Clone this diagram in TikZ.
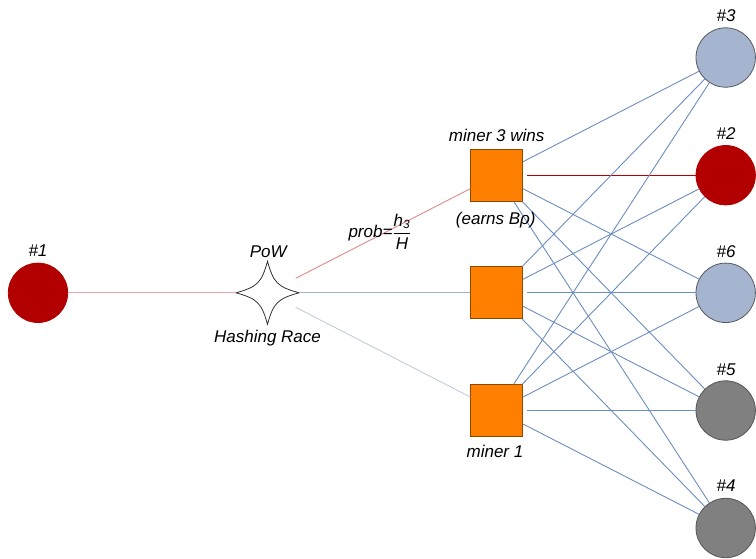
\documentclass[tikz,border=0pt]{standalone}
\usepackage{fontspec}
\setmainfont{Liberation Sans}
\usepackage{amsmath}
\definecolor{peerred}{HTML}{B20000}
\definecolor{peerblue}{HTML}{A5B5CF}
\definecolor{peerblueline}{HTML}{56585E}
\definecolor{peergray}{HTML}{808080}
\definecolor{peergrayline}{HTML}{555555}
\definecolor{minerorange}{HTML}{FF8000}
\definecolor{minerline}{HTML}{8C4A00}
\definecolor{linkblue}{HTML}{6C8EBF}
\definecolor{winred}{HTML}{B80000}
\definecolor{pinkA}{HTML}{EBA8A8}
\definecolor{pinkB}{HTML}{E08A8A}
\definecolor{slateA}{HTML}{A3B2CC}
\definecolor{slateB}{HTML}{C2CCDF}
\begin{document}
\begin{tikzpicture}[x=1pt,y=-1pt,
  every node/.style={font=\fontsize{17}{20}\selectfont\itshape},
  peer/.style={circle,minimum size=59.4pt,inner sep=0pt,line width=0.8pt},
  redpeer/.style={peer,fill=peerred,draw=peerred},
  bluepeer/.style={peer,fill=peerblue,draw=peerblueline},
  graypeer/.style={peer,fill=peergray,draw=peergrayline},
  miner/.style={rectangle,minimum size=52pt,inner sep=0pt,fill=minerorange,draw=minerline,line width=0.8pt},
  lbl/.style={inner sep=0pt,anchor=center,text height=12.3pt,text depth=0pt},
  link/.style={draw=linkblue,line width=0.9pt},
  flat/.style={shorten <=3.8pt},
]
\useasboundingbox (0,0) rectangle (756,558);

% peers on the right, one row every 117.6 units
\node[bluepeer] (p3) at (725.7,57.5) {};
\node[redpeer]  (p2) at (725.7,175.2) {};
\node[bluepeer] (p6) at (725.7,292.8) {};
\node[graypeer] (p5) at (725.7,410.5) {};
\node[graypeer] (p4) at (725.7,528) {};

% the block producer on the left
\node[redpeer] (p1) at (38,292.8) {};

% miners
\node[miner] (m3) at (496.7,175.2) {};
\node[miner] (m2) at (496.7,292.8) {};
\node[miner] (m1) at (496.7,410.5) {};

% proof-of-work race: a four-pointed star inside an invisible round anchor
\node[circle,minimum size=63pt,inner sep=0pt] (pow) at (267.5,292.8) {};
\begin{scope}[shift={(267.5,292.8)}]
  \draw[fill=white,draw=black!80,line width=0.8pt]
    (31.5,0) .. controls (10,-6) and (6,-10) .. (0,-31.5)
             .. controls (-6,-10) and (-10,-6) .. (-31.5,0)
             .. controls (-10,6) and (-6,10) .. (0,31.5)
             .. controls (6,10) and (10,6) .. (31.5,0) -- cycle;
\end{scope}

% block propagation into the race
\draw[draw=pinkA,line width=0.9pt] (p1) -- (pow);
\draw[draw=pinkB,line width=0.9pt] (pow) -- (m3);
\draw[draw=slateA,line width=0.9pt] (pow) -- (m2);
\draw[draw=slateB,line width=0.9pt] (pow) -- (m1);

% miner 3 to peers
\draw[link] (m3) -- (p3);
\draw[link,flat,draw=winred] (m3) -- (p2);
\draw[link] (m3) -- (p6);
\draw[link] (m3) -- (p5);
\draw[link] (m3) -- (p4);
% middle miner to peers
\draw[link] (m2) -- (p3);
\draw[link] (m2) -- (p2);
\draw[link,flat] (m2) -- (p6);
\draw[link] (m2) -- (p5);
\draw[link] (m2) -- (p4);
% miner 1 to peers
\draw[link] (m1) -- (p3);
\draw[link] (m1) -- (p2);
\draw[link] (m1) -- (p6);
\draw[link,flat] (m1) -- (p5);
\draw[link] (m1) -- (p4);

% labels
\node[lbl] (l1) at (38,250.7) {\#1};
\node[lbl] (l3) at (726,15) {\#3};
\node[lbl] (l2) at (726,133.3) {\#2};
\node[lbl] (l6) at (726,251.7) {\#6};
\node[lbl] (l5) at (726,369.3) {\#5};
\node[lbl] (l4) at (726,485) {\#4};
\node[lbl] (lpow) at (268.3,251.7) {PoW};
\node[lbl] (lrace) at (267.5,336) {Hashing Race};
\node[lbl] (lm3) at (496.7,135) {miner 3 wins};
\node[lbl] (learn) at (495.8,218) {(earns Bρ)};
\node[lbl] (lm1) at (495,451.7) {miner 1};
\node[anchor=base west,inner sep=0pt] (prob) at (348.3,237.7)
  {prob=$\dfrac{\textit{h}_{\textit{3}}}{\textit{H}}$};
\end{tikzpicture}
\end{document}
